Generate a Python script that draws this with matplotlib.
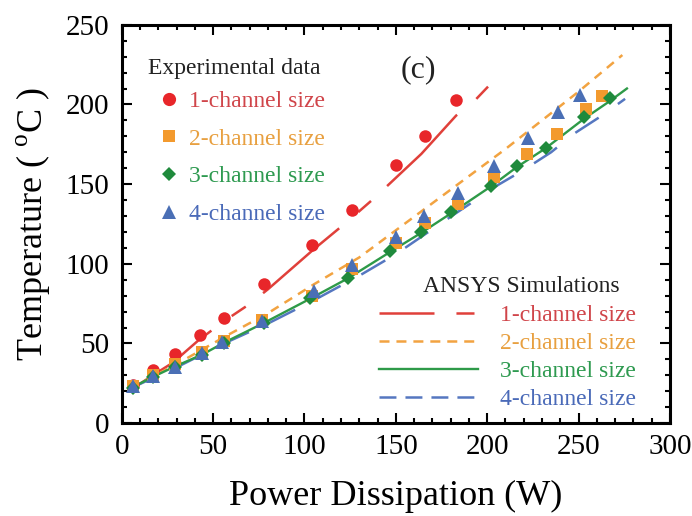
import matplotlib
matplotlib.use('Agg')
import matplotlib.pyplot as plt
from matplotlib.lines import Line2D
from matplotlib.ticker import MultipleLocator

# experimental data
exp1_x = [6, 17, 29, 43, 56, 78, 104, 126, 150, 166, 183]
exp1_y = [24, 33.5, 43.3, 55.2, 65.8, 87.5, 111.7, 133.5, 162, 180, 202.5]
exp2_x = [6, 17, 29, 44, 56, 77, 104, 126, 150, 166, 184, 204, 222, 238, 254, 263]
exp2_y = [23, 30, 37, 44.5, 51.5, 64.5, 80, 96.5, 113, 125.5, 137.6, 154.7, 168.8, 181.5, 197, 205]
exp3_x = [6, 17, 29, 44, 56, 78, 103, 124, 147, 164, 180, 202, 216.5, 232, 253, 267]
exp3_y = [22, 29, 35.5, 43, 50.5, 63, 78.3, 91.3, 108, 119.8, 132.5, 149, 161.4, 172.5, 192, 204]
exp4_x = [6, 17, 29, 44, 55, 77, 105, 126, 150, 165.5, 184, 204, 222.5, 238.5, 251]
exp4_y = [23.5, 29.5, 35.5, 44, 51, 64, 83, 99.5, 116.5, 130, 144.5, 161.5, 179, 195, 206]

# ANSYS simulations
sim1_x = [5, 17, 28, 42, 56, 69, 80, 105, 124, 138, 151, 164, 183, 192, 207]
sim1_y = [21, 30, 38, 52, 64, 74, 84, 109, 127, 141, 155, 169, 193, 201, 219]
sim2_x = [5, 30, 56, 80, 105, 130, 150, 170, 190, 210, 230, 250, 274]
sim2_y = [22, 37, 54, 69, 87, 104, 121, 138, 155, 172, 190, 208, 231]
sim3_x = [5, 17, 29, 44, 56, 78, 103, 124, 147, 164, 180, 202, 216, 232, 253, 267, 276.5]
sim3_y = [22, 29, 35.5, 43, 50.5, 63, 78, 91, 107.5, 119.5, 131.5, 148.5, 160.5, 172.5, 191, 202, 210]
sim4_x = [5, 30, 56, 80, 105, 130, 150, 180, 206, 220, 235, 248, 262, 275.5]
sim4_y = [22, 35, 50, 62.5, 77, 92.5, 106, 129.5, 149.5, 158.9, 170, 182, 192.4, 203.5]

labels = ['1-channel size', '2-channel size', '3-channel size', '4-channel size']
mark_colors = ['#e8262a', '#f39a2e', '#1f8a3c', '#4a6fb5']
line_colors = ['#e0403a', '#f2a341', '#2e9a48', '#5577c0']
text_colors = ['#d0454a', '#e8a040', '#2e9a50', '#4a6ab8']

plt.rcParams['font.family'] = ['Liberation Serif', 'DejaVu Serif']
plt.rcParams['mathtext.fontset'] = 'custom'
plt.rcParams['mathtext.rm'] = 'Liberation Serif'
plt.rcParams['lines.scale_dashes'] = False

fig = plt.figure(figsize=(6.92, 5.16), dpi=100)
ax = fig.add_axes([0.176, 0.180, 0.792, 0.772])

dash1 = (0, (72, 18, 12.2, 15.8))
dash2 = (0, (6.5, 5))
dash4 = (0, (20, 17))
ax.plot(sim1_x, sim1_y, color=line_colors[0], lw=1.8, ls=dash1, zorder=2)
ax.plot(sim2_x, sim2_y, color=line_colors[1], lw=1.8, ls=dash2, zorder=2)
ax.plot(sim4_x, sim4_y, color=line_colors[3], lw=1.8, ls=dash4, zorder=2)
ax.plot(sim3_x, sim3_y, color=line_colors[2], lw=1.7, zorder=2)

ax.plot(exp1_x, exp1_y, 'o', color=mark_colors[0], ms=9, mew=0, zorder=3)
ax.plot(exp2_x, exp2_y, 's', color=mark_colors[1], ms=8.5, mew=0, zorder=4)
ax.plot(exp3_x, exp3_y, 'D', color=mark_colors[2], ms=6.8, mew=0, zorder=5)
ax.plot(exp4_x, exp4_y, '^', color=mark_colors[3], ms=10, mew=0, zorder=6)

ax.set_xlim(0, 300)
ax.set_ylim(0, 250)
ax.xaxis.set_major_locator(MultipleLocator(50))
ax.xaxis.set_minor_locator(MultipleLocator(10))
ax.yaxis.set_major_locator(MultipleLocator(50))
ax.yaxis.set_minor_locator(MultipleLocator(10))
ax.tick_params(which='both', direction='in', top=True, right=True, width=1.5)
ax.tick_params(which='major', length=7, labelsize=21)
ax.tick_params(axis='x', which='major', pad=8)
ax.tick_params(axis='y', which='major', pad=9)
ax.tick_params(which='minor', length=3.6)
for sp in ax.spines.values():
    sp.set_linewidth(2.2)

ax.set_xlabel('Power Dissipation (W)', fontsize=26, labelpad=14)
ax.set_ylabel('Temperature ( $^{\\mathrm{o}}$C )', fontsize=26, labelpad=10)

# left legend (experimental)
ax.text(0.047, 0.89, 'Experimental data', transform=ax.transAxes,
        fontsize=17, va='center', ha='left', color='#222222')
mk = ['o', 's', 'D', '^']
msz = [9.5, 8.5, 7, 9.5]
h_exp = [Line2D([], [], ls='none', marker=m, color=c, ms=s, mew=0)
         for m, c, s in zip(mk, mark_colors, msz)]
leg1 = ax.legend(h_exp, labels, loc='upper left', bbox_to_anchor=(0.068, 0.835),
                 frameon=False, fontsize=17, handlelength=0.8, handletextpad=0.45,
                 labelspacing=0.68, borderpad=0, borderaxespad=0, labelcolor=text_colors)
ax.add_artist(leg1)

# right legend (simulations)
ax.text(0.549, 0.342, 'ANSYS Simulations', transform=ax.transAxes,
        fontsize=17, va='center', ha='left', color='#222222')
h_sim = [Line2D([], [], color=line_colors[0], lw=1.8, ls=(0, (39.6, 15.8, 13, 20))),
         Line2D([], [], color=line_colors[1], lw=1.8, ls=(0, (7.2, 5))),
         Line2D([], [], color=line_colors[2], lw=1.7),
         Line2D([], [], color=line_colors[3], lw=1.8, ls=(0, (12.2, 6.5)))]
ax.legend(h_sim, labels, loc='upper left', bbox_to_anchor=(0.469, 0.297),
          frameon=False, fontsize=17, handlelength=4.2, handletextpad=0.95,
          labelspacing=0.27, borderpad=0, borderaxespad=0, labelcolor=text_colors)

ax.text(0.542, 0.887, '(c)', transform=ax.transAxes, fontsize=23,
        ha='center', va='center', color='#222222')

fig.savefig('out.png', dpi=100)
